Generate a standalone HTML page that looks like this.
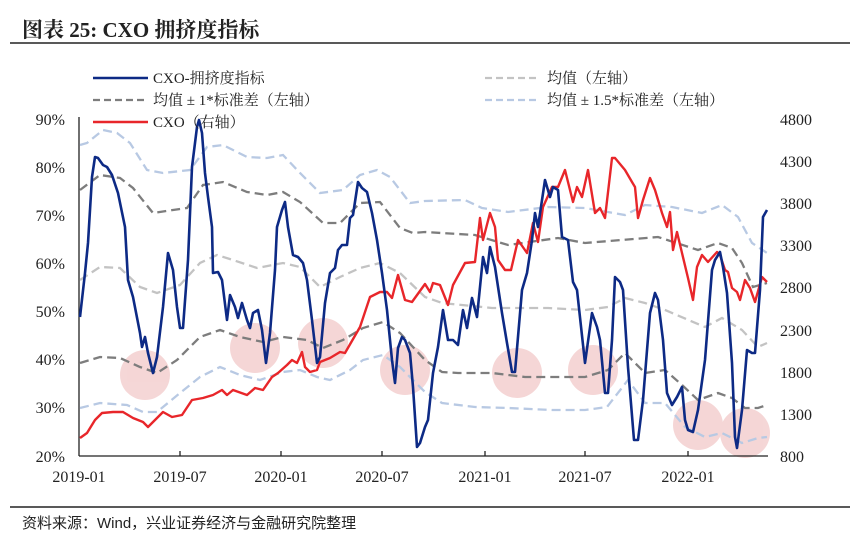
<!DOCTYPE html>
<html><head><meta charset="utf-8"><style>
html,body{margin:0;padding:0;background:#fff;}
svg{display:block;}
text{font-family:"Liberation Serif","Noto Serif CJK SC",serif;fill:#222;}
</style></head><body>
<svg width="850" height="547" viewBox="0 0 850 547" xmlns="http://www.w3.org/2000/svg">
<rect width="850" height="547" fill="#fff"/>
<text x="22" y="37" font-size="21" font-weight="bold" fill="#111">图表 25:  CXO 拥挤度指标</text>
<line x1="10" y1="43" x2="850" y2="43" stroke="#222" stroke-width="1.5"/>
<line x1="10" y1="507" x2="850" y2="507" stroke="#222" stroke-width="1.5"/>
<text x="22" y="528" font-size="15" style="font-family:'Liberation Sans','Noto Sans CJK SC',sans-serif">资料来源：Wind，兴业证券经济与金融研究院整理</text>

<g fill="#f2c9c9" opacity="0.75">
<circle cx="145" cy="375" r="25"/><circle cx="255" cy="348" r="25"/><circle cx="323" cy="343" r="25"/><circle cx="405" cy="370" r="25"/>
<circle cx="517" cy="373" r="25"/><circle cx="593" cy="370" r="25"/><circle cx="698" cy="425" r="25"/><circle cx="745" cy="433" r="25"/>
</g>

<g stroke="#222" stroke-width="1.3" fill="none">
<line x1="79" y1="117" x2="79" y2="456"/>
<line x1="79" y1="456" x2="768" y2="456"/>
<line x1="180" y1="456" x2="180" y2="451"/><line x1="281" y1="456" x2="281" y2="451"/><line x1="382" y1="456" x2="382" y2="451"/>
<line x1="485" y1="456" x2="485" y2="451"/><line x1="585" y1="456" x2="585" y2="451"/><line x1="688" y1="456" x2="688" y2="451"/>
</g>
<g font-size="16" text-anchor="end">
<text x="65" y="125">90%</text><text x="65" y="173">80%</text><text x="65" y="221">70%</text><text x="65" y="269">60%</text>
<text x="65" y="317">50%</text><text x="65" y="365">40%</text><text x="65" y="413">30%</text><text x="65" y="462">20%</text>
</g>
<g font-size="16" text-anchor="start">
<text x="780" y="125">4800</text><text x="780" y="167">4300</text><text x="780" y="209">3800</text><text x="780" y="251">3300</text>
<text x="780" y="293">2800</text><text x="780" y="336">2300</text><text x="780" y="378">1800</text><text x="780" y="420">1300</text><text x="780" y="462">800</text>
</g>
<g font-size="16" text-anchor="middle">
<text x="79" y="482">2019-01</text><text x="180" y="482">2019-07</text><text x="281" y="482">2020-01</text><text x="382" y="482">2020-07</text>
<text x="485" y="482">2021-01</text><text x="585" y="482">2021-07</text><text x="688" y="482">2022-01</text>
</g>

<g fill="none" stroke-width="2.3" stroke-dasharray="9,5">
<polyline stroke="#b8c9e3" points="80,145 87,143 103,130 117,133 130,143 147,170 163,173 190,170 207,147 223,145 247,157 267,158 283,155 300,173 320,193 343,190 360,175 377,170 390,177 410,203 425,201 465,200 482,208 508,212 548,207 585,208 625,215 645,205 672,207 702,213 722,205 738,217 752,243 767,253"/>
<polyline stroke="#7d7d7d" points="80,190 100,175 120,178 133,188 153,213 173,210 187,208 203,185 223,182 247,192 267,195 283,192 300,202 323,223 340,223 360,203 380,202 400,228 413,233 425,232 475,235 508,245 558,238 585,243 658,237 698,250 718,243 732,248 742,263 753,287 767,283"/>
<polyline stroke="#c3c3c3" points="80,280 100,267 120,268 140,287 157,293 180,285 200,263 217,255 233,260 257,268 283,263 300,267 320,287 340,277 360,268 380,263 400,273 425,297 442,303 492,308 548,308 585,310 608,307 625,298 645,303 665,310 705,327 722,318 742,330 758,347 767,343"/>
<polyline stroke="#7d7d7d" points="80,363 100,357 120,358 140,367 157,373 177,360 200,337 220,330 240,337 263,342 283,337 307,340 323,348 343,340 363,328 383,322 400,333 425,360 442,372 458,373 492,373 525,377 585,377 608,370 625,353 645,373 665,370 682,385 698,400 718,393 732,398 745,408 758,408 767,405"/>
<polyline stroke="#b8c9e3" points="80,408 100,403 127,405 143,412 157,412 180,393 200,377 220,367 240,375 260,380 283,372 300,370 317,377 330,380 350,370 363,360 383,355 400,367 425,392 442,403 475,407 508,408 552,410 585,410 607,407 628,380 645,403 665,403 685,427 705,437 722,433 742,443 758,438 767,437"/>
</g>

<polyline fill="none" stroke="#e8262a" stroke-width="2.4" stroke-linejoin="round" points="80,438 87,433 95,420 102,413 113,412 123,412 133,418 143,422 148,427 155,420 163,412 172,417 182,415 192,400 203,398 213,395 222,390 227,395 233,390 247,395 255,388 263,390 272,377 278,373 287,365 292,360 297,363 302,352 305,367 310,372 317,370 320,362 330,358 340,352 345,353 360,327 370,297 380,292 387,292 392,298 398,275 405,300 412,302 425,284 430,292 433,283 440,285 448,305 453,285 465,263 475,262 480,218 483,240 490,213 495,227 498,260 505,270 511,270 518,240 527,253 533,223 538,242 543,207 552,187 558,187 565,170 573,202 577,187 582,197 588,170 595,213 600,208 605,218 612,158 615,158 625,170 632,182 635,187 638,218 643,200 650,178 655,190 662,213 667,227 670,212 673,250 677,232 682,253 688,278 693,300 697,267 702,255 708,262 717,252 720,255 725,270 728,272 732,288 737,292 740,300 745,280 750,288 755,302 762,277 767,282"/>

<polyline fill="none" stroke="#0d2a85" stroke-width="2.6" stroke-linejoin="round" points="80,317 85,273 88,243 92,177 95,157 98,158 103,165 107,167 112,175 118,193 125,227 128,280 133,297 140,333 142,347 145,337 148,353 153,373 157,357 163,307 168,253 173,270 177,307 180,328 183,328 188,260 192,167 197,127 199,120 202,133 205,173 208,197 212,227 213,273 218,272 222,280 227,320 230,295 235,307 238,318 242,303 247,320 250,328 253,313 258,310 262,330 266,363 270,333 275,270 277,227 282,210 285,202 288,227 293,255 298,257 303,263 307,280 312,320 317,363 320,357 325,303 330,273 335,268 338,250 342,245 347,245 350,218 353,215 358,182 362,188 367,192 372,213 377,240 382,273 387,310 392,360 395,383 398,348 402,337 405,340 410,353 413,387 417,447 420,443 425,427 428,420 433,373 438,347 443,310 448,340 453,340 458,345 463,310 467,328 472,298 477,317 483,257 487,273 490,247 495,267 502,313 507,343 512,372 515,372 522,290 527,273 532,240 535,213 538,227 545,180 550,197 553,187 558,190 562,237 568,240 573,282 577,290 585,363 592,313 597,327 600,340 605,393 608,393 612,340 615,277 620,282 623,290 628,367 634,440 638,440 643,400 650,313 655,293 658,300 663,340 667,393 672,405 677,397 682,387 685,420 688,430 693,432 698,410 705,360 712,270 715,260 720,252 723,267 727,293 732,363 735,437 737,448 742,410 747,350 752,353 755,353 760,290 763,217 767,210"/>

<line x1="93" y1="78" x2="148" y2="78" stroke="#0d2a85" stroke-width="2.6"/>
<text x="153" y="83" font-size="15">CXO-拥挤度指标</text>
<line x1="93" y1="100" x2="148" y2="100" stroke="#7d7d7d" stroke-width="2.3" stroke-dasharray="7,4"/>
<text x="153" y="105" font-size="15">均值 ± 1*标准差（左轴）</text>
<line x1="93" y1="122" x2="148" y2="122" stroke="#e8262a" stroke-width="2.4"/>
<text x="153" y="127" font-size="15">CXO（右轴）</text>
<line x1="485" y1="78" x2="540" y2="78" stroke="#c3c3c3" stroke-width="2.3" stroke-dasharray="7,4"/>
<text x="547" y="83" font-size="15">均值（左轴）</text>
<line x1="485" y1="100" x2="540" y2="100" stroke="#b8c9e3" stroke-width="2.3" stroke-dasharray="7,4"/>
<text x="547" y="105" font-size="15">均值 ± 1.5*标准差（左轴）</text>
</svg>
</body></html>
